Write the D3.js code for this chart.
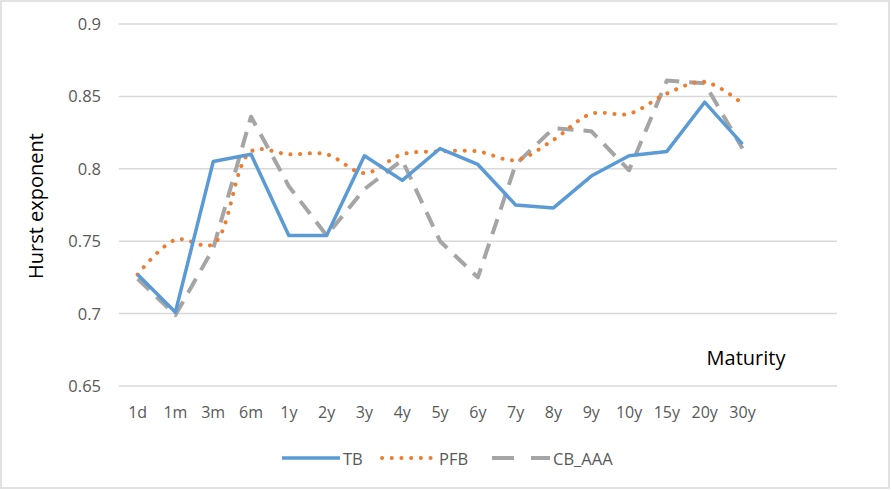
<!DOCTYPE html>
<html>
<head>
<meta charset="utf-8">
<script src="https://cdn.jsdelivr.net/npm/d3@7"></script>
<style>
  body { margin: 0; background: #fff; }
  svg { display: block; font-family: 'Open Sans', 'Noto Sans', sans-serif; }
</style>
</head>
<body>
<svg id="chart" width="891" height="490"></svg>
<script>
const maturities = ['1d', '1m', '3m', '6m', '1y', '2y', '3y', '4y', '5y', '6y', '7y', '8y', '9y', '10y', '15y', '20y', '30y'];
const tb = [0.727, 0.701, 0.805, 0.810, 0.754, 0.754, 0.809, 0.792, 0.814, 0.803, 0.775, 0.773, 0.795, 0.809, 0.812, 0.846, 0.817];
const pfb = [0.727, 0.751, 0.748, 0.812, 0.810, 0.810, 0.797, 0.810, 0.812, 0.812, 0.806, 0.820, 0.838, 0.838, 0.852, 0.860, 0.845];
const cbAAA = [0.724, 0.699, 0.745, 0.836, 0.788, 0.754, 0.786, 0.806, 0.750, 0.725, 0.803, 0.828, 0.826, 0.799, 0.861, 0.859, 0.814];
const yTicks = [0.65, 0.7, 0.75, 0.8, 0.85, 0.9];
const slots = 19; // Excel axis leaves two empty slots at the right

const w = 891, h = 490;
const left = 118.7, right = 837;
const svg = d3.select('#chart');

// outer border
svg.append('rect')
  .attr('x', 1).attr('y', 1).attr('width', w - 3).attr('height', h - 3)
  .attr('fill', '#fff').attr('stroke', '#d9d9d9').attr('stroke-width', 1.5);

const xScale = d3.scaleLinear().domain([-0.5, slots - 0.5]).range([left, right]);
const yScale = d3.scaleLinear().domain([0.65, 0.9]).range([386, 24]);

// gridlines
svg.append('g')
  .selectAll('line')
  .data(yTicks)
  .enter()
  .append('line')
  .attr('x1', left).attr('x2', right)
  .attr('y1', (d) => yScale(d)).attr('y2', (d) => yScale(d))
  .attr('stroke', '#d9d9d9').attr('stroke-width', 1.5);

// y tick labels
svg.append('g')
  .selectAll('text')
  .data(yTicks)
  .enter()
  .append('text')
  .attr('x', 101)
  .attr('y', (d) => yScale(d) + 6)
  .attr('text-anchor', 'end')
  .attr('fill', '#595959')
  .style('font-size', '16.5px')
  .text((d) => d3.format('')(d));

// x tick labels
svg.append('g')
  .selectAll('text')
  .data(maturities)
  .enter()
  .append('text')
  .attr('x', (d, i) => xScale(i))
  .attr('y', 418)
  .attr('text-anchor', 'middle')
  .attr('fill', '#595959')
  .style('font-size', '16px')
  .text((d) => d);

// axis titles
svg.append('text')
  .attr('transform', 'translate(43, 206) rotate(-90)')
  .attr('text-anchor', 'middle')
  .attr('fill', '#000')
  .style('font-size', '20px')
  .text('Hurst exponent');
svg.append('text')
  .attr('x', 746).attr('y', 365)
  .attr('text-anchor', 'middle')
  .attr('fill', '#000')
  .style('font-size', '20px')
  .text('Maturity');

const series = [
  { name: 'TB', values: tb, color: '#5b9bd5', dash: null, width: 3.5, cap: 'butt', curve: d3.curveLinear },
  { name: 'PFB', values: pfb, color: '#ed7d31', dash: '0.1,9.6', width: 4, cap: 'round', curve: d3.curveCatmullRom.alpha(0.5) },
  { name: 'CB_AAA', values: cbAAA, color: '#a5a5a5', dash: '16,10', width: 4, cap: 'butt', curve: d3.curveLinear },
];

// lines (draw gray first, then orange, then blue on top)
[series[2], series[1], series[0]].forEach((s) => {
  const line = d3.line()
    .x((d, i) => xScale(i))
    .y((d) => yScale(d))
    .curve(s.curve);
  svg.append('path')
    .datum(s.values)
    .attr('d', line)
    .attr('fill', 'none')
    .attr('stroke', s.color)
    .attr('stroke-width', s.width)
    .attr('stroke-linecap', s.cap)
    .attr('stroke-linejoin', 'round')
    .attr('stroke-dasharray', s.dash);
});

// legend
const legendX = [282, 382, 492];
const legendLen = [58, 54, 58];
series.forEach((s, i) => {
  svg.append('line')
    .attr('x1', legendX[i]).attr('x2', legendX[i] + legendLen[i])
    .attr('y1', 458).attr('y2', 458)
    .attr('stroke', s.color)
    .attr('stroke-width', s.width)
    .attr('stroke-linecap', s.cap)
    .attr('stroke-dasharray', s.name === 'CB_AAA' ? '22,17' : s.dash);
  svg.append('text')
    .attr('x', legendX[i] + legendLen[i] + 3)
    .attr('y', 464.5)
    .attr('fill', '#595959')
    .style('font-size', '16.5px')
    .text(s.name);
});
</script>
</body>
</html>
